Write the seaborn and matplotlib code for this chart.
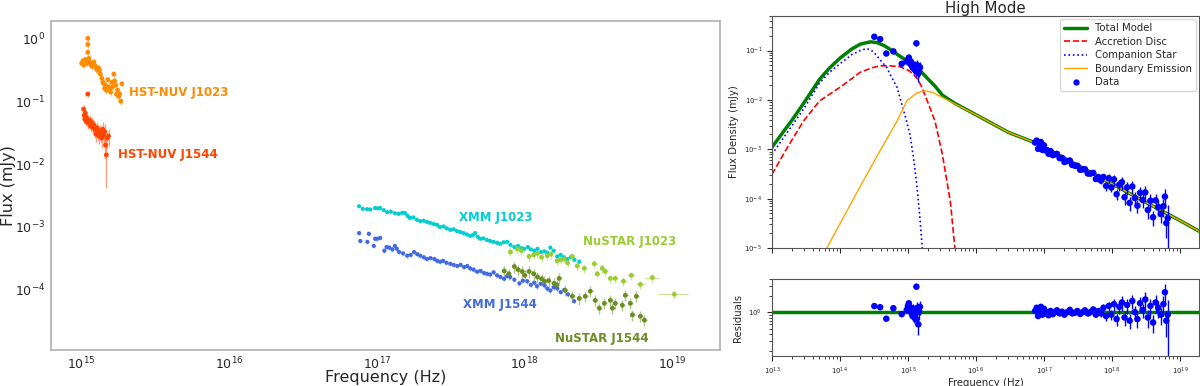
import numpy as np
import pandas as pd
import seaborn as sns
import matplotlib.pyplot as plt
from matplotlib.lines import Line2D

# ---------------- left panel data (Hz, mJy) ----------------
nuv_j1023_freq = [1.00, 1.02, 1.03, 1.05, 1.06, 1.08, 1.10, 1.10, 1.10, 1.12, 1.13, 1.15, 1.17, 1.19,
                  1.21, 1.23, 1.24, 1.26, 1.28, 1.30, 1.32, 1.34, 1.37, 1.39, 1.41, 1.43, 1.45, 1.47,
                  1.50, 1.52, 1.55, 1.57, 1.60, 1.62, 1.65, 1.67, 1.70, 1.72, 1.75, 1.78, 1.81, 1.84, 1.87]
nuv_j1023_flux = [0.40, 0.44, 0.38, 0.42, 0.46, 0.40, 1.00, 0.80, 0.60, 0.48, 0.42, 0.39, 0.36, 0.40,
                  0.42, 0.37, 0.35, 0.33, 0.31, 0.34, 0.31, 0.27, 0.23, 0.20, 0.19, 0.16, 0.18, 0.15,
                  0.22, 0.17, 0.16, 0.14, 0.20, 0.17, 0.27, 0.21, 0.18, 0.13, 0.15, 0.12, 0.13, 0.10, 0.19]
nuv_j1544_freq = [1.03, 1.04, 1.05, 1.06, 1.07, 1.08, 1.10, 1.11, 1.13, 1.15, 1.17, 1.19, 1.21, 1.23,
                  1.25, 1.27, 1.29, 1.31, 1.33, 1.35, 1.37, 1.39, 1.41, 1.43, 1.45, 1.47, 1.49, 1.52]
nuv_j1544_flux = [0.075, 0.060, 0.052, 0.065, 0.048, 0.055, 0.13, 0.045, 0.050, 0.040, 0.046, 0.038,
                  0.042, 0.035, 0.030, 0.038, 0.032, 0.028, 0.034, 0.030, 0.026, 0.036, 0.029, 0.033,
                  0.020, 0.014, 0.026, 0.028]
nuv_j1544_relerr = [0.15, 0.15, 0.15, 0.15, 0.15, 0.15, 0.10, 0.2, 0.2, 0.2, 0.2, 0.2, 0.2, 0.25,
                    0.25, 0.25, 0.25, 0.25, 0.25, 0.25, 0.3, 0.3, 0.3, 0.3, 0.4, 0.7, 0.3, 0.3]

xmm_j1023_freq = [0.756, 0.80, 0.855, 0.90, 0.97, 1.01, 1.05, 1.11, 1.17, 1.24,
                  1.32, 1.40, 1.48, 1.55, 1.61, 1.67, 1.76, 1.86, 1.96, 2.07,
                  2.18, 2.29, 2.42, 2.55, 2.67, 2.82, 2.97, 3.13, 3.30, 3.48,
                  3.66, 3.86, 4.06, 4.27, 4.45, 4.62, 4.80, 4.99, 5.25, 5.55,
                  5.83, 6.15, 6.50, 6.82, 7.2, 7.6, 8.0, 8.5, 9.0, 9.5,
                  9.9, 10.5, 11.0, 11.6, 12.2, 12.9, 13.6, 14.2, 14.9, 15.7,
                  16.6, 17.5, 18.4, 19.4, 20.5, 21.7, 23.4]
xmm_j1023_flux = [2.14, 1.95, 1.92, 1.90, 2.00, 1.98, 2.00, 1.85, 1.72, 1.75,
                  1.66, 1.62, 1.68, 1.66, 1.50, 1.39, 1.42, 1.30, 1.24, 1.26,
                  1.20, 1.16, 1.12, 1.08, 1.00, 1.02, 0.95, 0.90, 0.92, 0.86,
                  0.83, 0.80, 0.76, 0.72, 0.74, 0.80, 0.70, 0.65, 0.66, 0.62,
                  0.60, 0.58, 0.56, 0.54, 0.57, 0.58, 0.52, 0.48, 0.50, 0.46,
                  0.45, 0.48, 0.44, 0.42, 0.45, 0.40, 0.41, 0.39, 0.47, 0.42,
                  0.34, 0.36, 0.33, 0.31, 0.33, 0.30, 0.28]
xmm_j1544_freq = [0.756, 0.77, 0.86, 0.88, 0.95, 0.97, 1.00, 1.05, 1.12, 1.16,
                  1.21, 1.27, 1.32, 1.36, 1.41, 1.50, 1.60, 1.69, 1.78, 1.87,
                  1.96, 2.07, 2.18, 2.30, 2.44, 2.55, 2.67, 2.80, 2.95, 3.13,
                  3.30, 3.49, 3.68, 3.89, 4.08, 4.27, 4.50, 4.76, 5.02, 5.30,
                  5.55, 5.83, 6.15, 6.50, 6.85, 7.25, 7.6, 7.97, 8.5, 9.2,
                  9.7, 10.4, 11.0, 11.6, 12.1, 12.8, 13.6, 14.2, 14.9, 15.7,
                  16.6, 17.5, 18.5, 19.6, 21.6]
xmm_j1544_flux = [8.0, 6.0, 5.8, 7.8, 5.0, 6.5, 6.5, 6.7, 4.2, 4.8,
                  4.7, 4.4, 5.0, 4.5, 4.0, 3.8, 3.5, 3.6, 4.0, 3.7,
                  3.5, 3.3, 3.1, 3.2, 3.1, 2.9, 2.8, 2.9, 2.7, 2.6,
                  2.5, 2.4, 2.5, 2.3, 2.4, 2.2, 2.1, 1.95, 2.0, 1.85,
                  1.8, 1.75, 1.9, 1.7, 1.6, 1.5, 1.65, 1.6, 1.45, 1.27,
                  1.4, 1.37, 1.2, 1.3, 1.14, 1.25, 1.18, 1.05, 0.98, 1.1,
                  1.06, 0.92, 1.0, 0.85, 0.66]

nustar_j1023_freq = [0.80, 0.89, 0.95, 1.07, 1.15, 1.22, 1.30, 1.42, 1.50, 1.66, 1.75, 1.85, 1.95, 2.1,
                     2.27, 2.53, 2.96, 3.1, 3.35, 3.51, 3.8, 4.1, 4.66, 5.27, 6.07, 7.31, 10.3]
nustar_j1023_flux = [4.0, 4.5, 4.2, 3.4, 3.6, 3.8, 3.3, 3.5, 3.7, 2.9, 3.0, 3.1, 2.7, 3.4,
                     2.4, 2.2, 2.6, 1.8, 2.2, 1.96, 1.52, 1.52, 1.37, 1.7, 1.22, 1.57, 0.85]
nustar_j1023_xrel = [0.03, 0.03, 0.03, 0.03, 0.03, 0.03, 0.03, 0.03, 0.03, 0.03, 0.03, 0.03, 0.03, 0.03,
                     0.03, 0.04, 0.04, 0.04, 0.04, 0.04, 0.05, 0.05, 0.05, 0.06, 0.07, 0.11, 0.23]
nustar_j1544_freq = [0.726, 0.78, 0.85, 0.90, 0.96, 1.0, 1.07, 1.15, 1.22, 1.30, 1.36, 1.45, 1.58, 1.65,
                     1.71, 1.88, 2.1, 2.34, 2.57, 2.78, 3.0, 3.2, 3.46, 3.8, 3.92, 4.1, 4.58, 4.8,
                     5.19, 5.36, 5.7, 6.07, 6.46]
nustar_j1544_flux = [2.0, 1.8, 2.35, 2.1, 1.96, 1.7, 1.96, 1.8, 1.6, 1.5, 1.37, 1.4, 1.27, 1.2,
                     1.52, 0.98, 0.79, 0.73, 0.79, 0.95, 0.68, 0.51, 0.61, 0.68, 0.51, 0.61, 0.57, 0.82,
                     0.61, 0.40, 0.79, 0.38, 0.33]

# ---------------- right panel data ----------------
uv_freq = [3.2e14, 3.9e14, 4.8e14, 6.1e14, 8.1e14, 9.6e14, 1.00e15, 1.03e15, 1.06e15, 1.10e15, 1.13e15,
           1.17e15, 1.20e15, 1.24e15, 1.28e15, 1.31e15, 1.33e15, 1.35e15, 1.38e15, 1.42e15, 1.46e15, 1.50e15]
uv_flux = [0.19, 0.17, 0.087, 0.096, 0.054, 0.06, 0.065, 0.072, 0.055, 0.06, 0.05,
           0.045, 0.052, 0.042, 0.048, 0.038, 0.14, 0.045, 0.05, 0.035, 0.042, 0.046]
uv_resid = [1.29, 1.23, 0.76, 1.18, 0.92, 1.1, 1.3, 1.45, 1.05, 1.2, 0.95,
            0.85, 1.15, 0.8, 1.1, 0.75, 2.9, 1.0, 1.2, 0.6, 1.05, 1.25]
uv_relerr = [0.04, 0.04, 0.04, 0.04, 0.05, 0.1, 0.1, 0.1, 0.15, 0.15, 0.15,
             0.2, 0.2, 0.2, 0.25, 0.25, 0.1, 0.3, 0.3, 0.35, 0.3, 0.3]

xray_freq = [0.74, 0.78, 0.82, 0.86, 0.90, 0.95, 1.00, 1.05, 1.10, 1.17,
             1.25, 1.35, 1.45, 1.55, 1.70, 1.85, 2.0, 2.2, 2.4, 2.6,
             2.85, 3.1, 3.4, 3.7, 4.0, 4.4, 4.8, 5.3, 5.8, 6.3,
             6.9, 7.5, 8.2, 9.0, 9.8, 10.7, 11.7, 12.8, 14.0, 15.3,
             16.7, 18.2, 19.9, 21.7, 23.7, 25.9, 28.3, 30.9, 33.7, 36.8,
             40.2, 43.9, 47.9, 52.3, 57.1, 60.0, 63.0, 66.0]
xray_flux = [1.37, 1.50, 1.02, 1.28, 1.40, 0.97, 1.20, 0.95, 0.965, 0.81,
             0.92, 0.76, 0.784, 0.806, 0.661, 0.667, 0.554, 0.574, 0.592, 0.482,
             0.464, 0.465, 0.385, 0.389, 0.395, 0.324, 0.320, 0.333, 0.249, 0.273,
             0.231, 0.275, 0.181, 0.259, 0.168, 0.245, 0.123, 0.191, 0.215, 0.107,
             0.169, 0.082, 0.176, 0.103, 0.072, 0.131, 0.094, 0.134, 0.059, 0.091,
             0.042, 0.092, 0.068, 0.049, 0.070, 0.110, 0.032, 0.040]
xray_resid = [1.05, 1.2, 0.85, 1.1, 1.25, 0.9, 1.15, 0.95, 1.0, 0.88,
              1.05, 0.92, 1.0, 1.08, 0.95, 1.02, 0.9, 1.0, 1.1, 0.95,
              0.98, 1.05, 0.93, 1.0, 1.08, 0.95, 1.0, 1.12, 0.9, 1.05,
              0.95, 1.2, 0.85, 1.3, 0.9, 1.4, 0.75, 1.25, 1.5, 0.8,
              1.35, 0.7, 1.6, 1.0, 0.75, 1.45, 1.1, 1.7, 0.8, 1.3,
              0.65, 1.5, 1.2, 0.9, 1.4, 2.3, 0.7, 0.9]
xray_relerr = [0.08, 0.08, 0.08, 0.08, 0.08, 0.08, 0.08, 0.08, 0.08, 0.08,
               0.07, 0.07, 0.07, 0.07, 0.07, 0.07, 0.07, 0.07, 0.07, 0.07,
               0.08, 0.08, 0.08, 0.08, 0.08, 0.1, 0.1, 0.1, 0.1, 0.1,
               0.15, 0.15, 0.2, 0.2, 0.2, 0.25, 0.25, 0.25, 0.3, 0.3,
               0.3, 0.3, 0.3, 0.3, 0.3, 0.3, 0.3, 0.35, 0.35, 0.35,
               0.35, 0.35, 0.35, 0.35, 0.4, 0.4, 0.5, 0.85]

total_freq = [1e13, 2e13, 3e13, 5e13, 7e13, 1e14, 1.5e14, 2e14, 2.8e14, 3.5e14, 4.5e14, 5.5e14, 7e14,
              9e14, 1.1e15, 1.35e15, 1.6e15, 2e15, 2.5e15, 3.2e15, 4.9e15, 1e16, 3e16, 8e16, 3e17,
              1e18, 3e18, 1e19, 1.9e19]
total_flux = [1.1e-3, 4.0e-3, 9.0e-3, 2.6e-2, 4.4e-2, 7.0e-2, 0.108, 0.135, 0.150, 0.145, 0.125, 0.105,
              0.083, 0.066, 0.055, 0.045, 0.036, 0.026, 0.019, 0.0125, 0.0085, 5.0e-3, 2.2e-3, 1.3e-3,
              4.9e-4, 2.0e-4, 8.7e-5, 3.6e-5, 2.2e-5]
disc_freq = [1e13, 1.66e13, 2.9e13, 5e13, 1e14, 1.55e14, 1.96e14, 3e14, 3.9e14, 5.5e14, 7.6e14, 1e15,
             1.18e15, 1.4e15, 1.6e15, 2.0e15, 2.5e15, 3.2e15, 4.2e15, 4.9e15, 5.2e15]
disc_flux = [3.1e-4, 1.05e-3, 3.7e-3, 9.5e-3, 0.018, 0.028, 0.036, 0.045, 0.049, 0.049, 0.047, 0.040,
             0.034, 0.026, 0.018, 0.0083, 0.0037, 8e-4, 8.7e-5, 1e-5, 5e-6]
comp_freq = [1e13, 2e13, 3e13, 5e13, 7e13, 1e14, 1.5e14, 2e14, 2.5e14, 3.1e14, 4e14, 4.9e14, 5.4e14,
             6.9e14, 8.1e14, 9e14, 1.07e15, 1.2e15, 1.35e15, 1.5e15, 1.6e15, 1.65e15]
comp_flux = [7.9e-4, 3.1e-3, 6.9e-3, 0.022, 0.036, 0.054, 0.083, 0.10, 0.11, 0.095, 0.062, 0.045, 0.034,
             0.018, 0.0083, 0.0050, 0.0020, 7e-4, 1.9e-4, 4e-5, 1.3e-5, 8e-6]
bnd_freq = [6.4e13, 1e14, 2e14, 4e14, 6.9e14, 9.6e14, 1.35e15, 1.78e15, 2.3e15, 2.9e15, 4.9e15, 1e16,
            3e16, 8e16, 3e17, 1e18, 3e18, 1e19, 1.9e19]
bnd_flux = [1e-5, 3.1e-5, 1.8e-4, 1.0e-3, 3.7e-3, 9.5e-3, 0.0139, 0.0153, 0.0142, 0.012, 0.0083, 5.0e-3,
            2.2e-3, 1.3e-3, 4.9e-4, 2.0e-4, 8.7e-5, 3.6e-5, 2.2e-5]
resid_model_freq = [1e13, 1.9e19]
resid_model = [1.0, 1.0]

sns.set_style("white")
plt.rcParams['font.family'] = ['DejaVu Sans']

fig = plt.figure(figsize=(12, 3.86), dpi=100)
ax = fig.add_axes([0.0425, 0.093, 0.5575, 0.853])
ax_top = fig.add_axes([0.6433, 0.3575, 0.3558, 0.601])
ax_res = fig.add_axes([0.6433, 0.0777, 0.3558, 0.1995], sharex=ax_top)


def plot_points(ax, freq, flux, color, yrel, xrel, size=9, ealpha=0.5):
    df = pd.DataFrame({'freq': freq, 'flux': flux})
    ax.errorbar(df['freq'], df['flux'], yerr=df['flux'] * np.asarray(yrel),
                xerr=df['freq'] * np.asarray(xrel), fmt='none', ecolor=color,
                alpha=ealpha, elinewidth=1, zorder=2)
    sns.scatterplot(data=df, x='freq', y='flux', color=color, s=size,
                    edgecolor='none', ax=ax, zorder=3, legend=False)


# ---------------- left panel ----------------
ax.set_xscale('log')
ax.set_yscale('log')
plot_points(ax, np.array(nuv_j1023_freq) * 1e15, nuv_j1023_flux, 'darkorange', 0.12, 0.0, size=12)
plot_points(ax, np.array(nuv_j1544_freq) * 1e15, nuv_j1544_flux, 'orangered', nuv_j1544_relerr, 0.0, size=12)
plot_points(ax, np.array(xmm_j1023_freq) * 1e17, np.array(xmm_j1023_flux) * 1e-3, 'darkturquoise', 0.04, 0.02)
plot_points(ax, np.array(xmm_j1544_freq) * 1e17, np.array(xmm_j1544_flux) * 1e-4, 'royalblue', 0.08, 0.02)
plot_points(ax, np.array(nustar_j1023_freq) * 1e18, np.array(nustar_j1023_flux) * 1e-4, 'yellowgreen', 0.15,
            nustar_j1023_xrel, size=12)
plot_points(ax, np.array(nustar_j1544_freq) * 1e18, np.array(nustar_j1544_flux) * 1e-4, 'olivedrab',
            0.2, 0.04, size=12)

labels = [("HST-NUV J1023", 2.1e15, 0.14, 'darkorange'),
          ("HST-NUV J1544", 1.75e15, 0.0144, 'orangered'),
          ("XMM J1023", 3.6e17, 1.44e-3, 'darkturquoise'),
          ("NuSTAR J1023", 2.5e18, 5.8e-4, 'yellowgreen'),
          ("XMM J1544", 3.83e17, 5.8e-5, 'royalblue'),
          ("NuSTAR J1544", 1.61e18, 1.7e-5, 'olivedrab')]
for txt, x, y, c in labels:
    ax.text(x, y, txt, color=c, fontsize=8.5, fontweight='bold', va='center', ha='left')

ax.set_xlim(6.2e14, 2.1e19)
ax.set_ylim(1.1e-5, 1.9)
ax.set_xlabel('Frequency (Hz)', fontsize=11.5, labelpad=-1.5)
ax.set_ylabel('Flux (mJy)', fontsize=11.5, labelpad=-1)
ax.tick_params(axis='both', which='major', labelsize=9, color='#b0b0b0', length=3, pad=1)
ax.tick_params(axis='both', which='minor', color='#b0b0b0', length=2)
for s in ax.spines.values():
    s.set_color('#b0b0b0')
    s.set_linewidth(1.2)

# ---------------- right top: model ----------------
ax_top.set_xscale('log')
ax_top.set_yscale('log')
sns.lineplot(x=total_freq, y=total_flux, color='green', lw=2.5, ax=ax_top, sort=False, estimator=None)
sns.lineplot(x=disc_freq, y=disc_flux, color='red', lw=1.2, ls='--', ax=ax_top, sort=False, estimator=None)
sns.lineplot(x=comp_freq, y=comp_flux, color='blue', lw=1.2, ls=':', ax=ax_top, sort=False, estimator=None)
sns.lineplot(x=bnd_freq, y=bnd_flux, color='orange', lw=1.0, ax=ax_top, sort=False, estimator=None)

data_freq = uv_freq + [f * 1e17 for f in xray_freq]
data_flux = uv_flux + [f * 1e-3 for f in xray_flux]
data_resid = uv_resid + xray_resid
data_relerr = uv_relerr + xray_relerr
plot_points(ax_top, data_freq, data_flux, 'blue', data_relerr, 0.02, size=22, ealpha=1.0)

ax_top.set_xlim(1e13, 1.9e19)
ax_top.set_ylim(1e-5, 0.5)
ax_top.set_title('High Mode', fontsize=10.8, pad=2)
ax_top.set_xlabel('')
ax_top.set_ylabel('Flux Density (mJy)', fontsize=7.3)
ax_top.tick_params(axis='both', which='both', labelsize=5, direction='out', bottom=True, left=True)
ax_top.tick_params(axis='x', labelbottom=False)
handles = [Line2D([], [], color='green', lw=2.5),
           Line2D([], [], color='red', lw=1.2, ls='--'),
           Line2D([], [], color='blue', lw=1.2, ls=':'),
           Line2D([], [], color='orange', lw=1.0),
           Line2D([], [], color='blue', marker='o', ms=3.5, ls='none')]
ax_top.legend(handles, ['Total Model', 'Accretion Disc', 'Companion Star', 'Boundary Emission', 'Data'],
              loc='upper right', fontsize=7.3, borderaxespad=0.3, handlelength=2.2, labelspacing=0.35)

# ---------------- right bottom: residuals ----------------
ax_res.set_yscale('log')
sns.lineplot(x=resid_model_freq, y=resid_model, color='green', lw=2.5, ax=ax_res, sort=False, estimator=None)
plot_points(ax_res, data_freq, data_resid, 'blue', data_relerr, 0.02, size=22, ealpha=1.0)
ax_res.set_ylim(0.16, 4)
ax_res.set_xlabel('Frequency (Hz)', fontsize=7.3, labelpad=1)
ax_res.set_ylabel('Residuals', fontsize=7.3)
ax_res.tick_params(axis='both', which='both', labelsize=5, direction='out', bottom=True, left=True)

for a in (ax_top, ax_res):
    for s in a.spines.values():
        s.set_color('#555555')
        s.set_linewidth(0.8)

fig.savefig('out.png', dpi=100)
